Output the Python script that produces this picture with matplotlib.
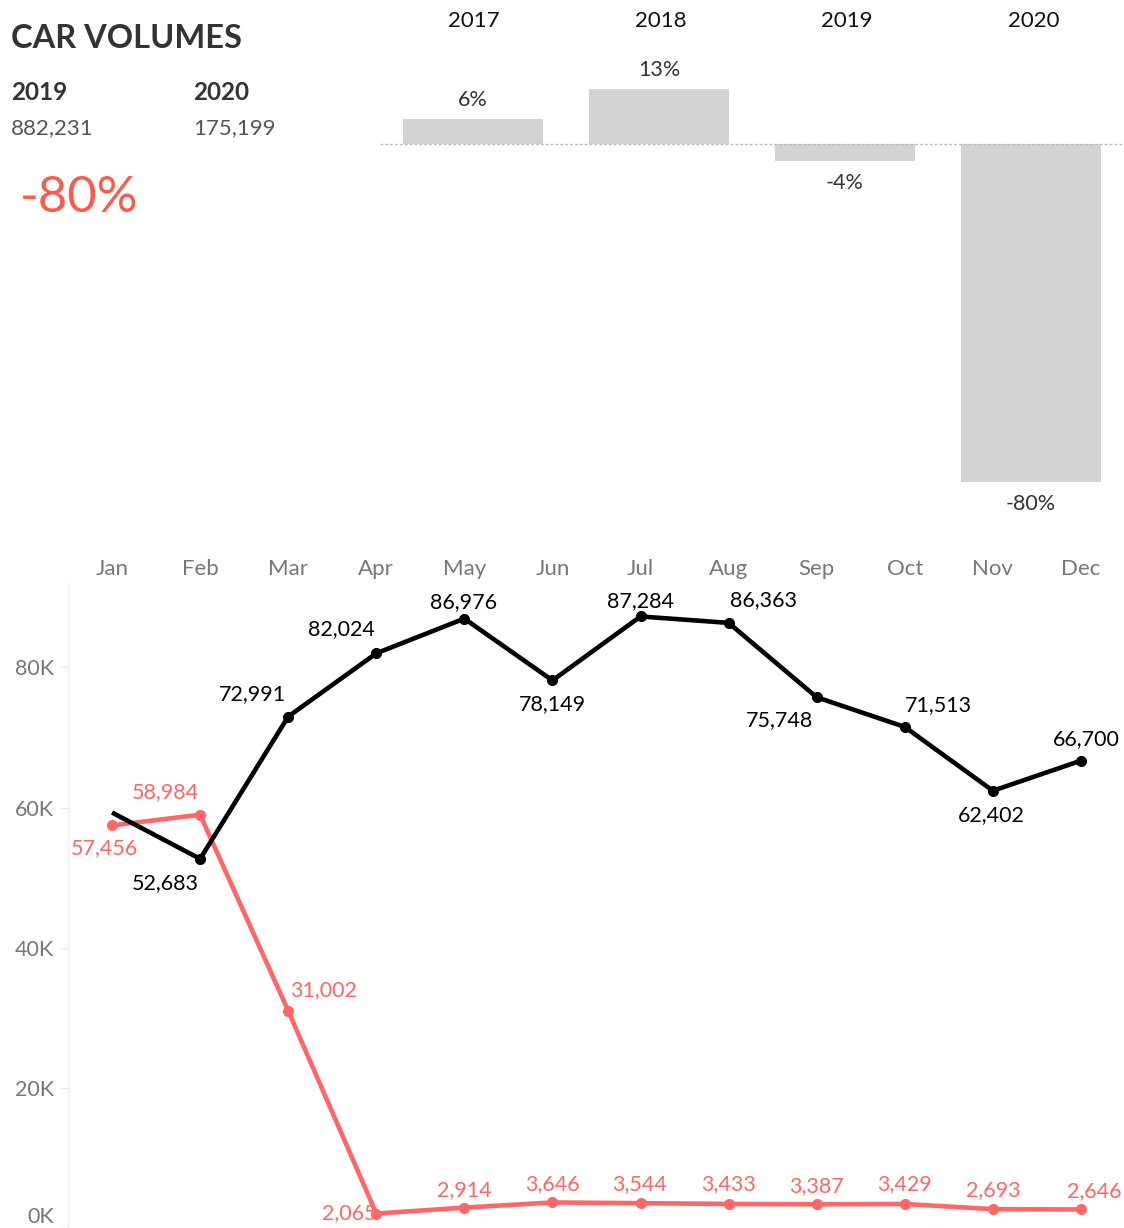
import matplotlib
matplotlib.use("Agg")
import matplotlib.pyplot as plt
from matplotlib.transforms import ScaledTranslation

plt.rcParams['font.family'] = ['Lato', 'DejaVu Sans']

# ---- data ----
years = ['2017', '2018', '2019', '2020']
yoy_pct = [6, 13, -4, -80]

months = ['Jan', 'Feb', 'Mar', 'Apr', 'May', 'Jun', 'Jul', 'Aug', 'Sep', 'Oct', 'Nov', 'Dec']
vol_2019 = [59300, 52683, 72991, 82024, 86976, 78149, 87284, 86363, 75748, 71513, 62402, 66700]
vol_2020 = [57456, 58984, 31002, 2065, 2914, 3646, 3544, 3433, 3387, 3429, 2693, 2646]

total_2019 = 882231
total_2020 = 175199
total_change = -80

W, H = 1124, 1228
fig = plt.figure(figsize=(W / 100, H / 100), dpi=100)

def fx(px):
    return px / W

def fy(py):
    return 1 - py / H

RED = '#FF6666'
BIG_RED = '#F95C4C'
BLACK = '#000000'
GRAY_TXT = '#777777'

# ---- KPI block ----
fig.text(fx(11), fy(39), 'CAR VOLUMES', fontsize=23.5, fontweight='bold', color='#333333', va='center', ha='left')
fig.text(fx(11), fy(93), '2019', fontsize=17.5, fontweight='bold', color='#333333', va='center', ha='left')
fig.text(fx(193), fy(93), '2020', fontsize=17.5, fontweight='bold', color='#333333', va='center', ha='left')
fig.text(fx(11), fy(128), f'{total_2019:,}', fontsize=16, color='#555555', va='center', ha='left')
fig.text(fx(193), fy(128), f'{total_2020:,}', fontsize=16, color='#555555', va='center', ha='left')
fig.text(fx(20), fy(198), f'{total_change}%', fontsize=36.5, color=BIG_RED, va='center', ha='left')

# ---- bar chart ----
ax_b = fig.add_axes([fx(380), fy(540), fx(1124) - fx(380), fy(40) - fy(540)])
zero_py = 144
ppp = 4.225
ax_b.set_ylim(-(540 - zero_py) / ppp, (zero_py - 40) / ppp)
ax_b.set_xlim(-0.5, len(years) - 0.5)
xs = list(range(len(years)))
ax_b.bar(xs, yoy_pct, width=0.753, color='#D3D3D3', zorder=2)
ax_b.axhline(0, color='#BBBBBB', lw=1, ls=(0, (2, 1.5)), zorder=3)
for x, v in zip(xs, yoy_pct):
    if v >= 0:
        ax_b.annotate(f'{v}%', (x, v), xytext=(0, 9), textcoords='offset pixels',
                      ha='center', va='bottom', fontsize=15.5, color='#333333')
    else:
        ax_b.annotate(f'{v}%', (x, v), xytext=(0, -12), textcoords='offset pixels',
                      ha='center', va='top', fontsize=15.5, color='#333333')
for x, yl in zip(xs, years):
    fig.text(fx(474 + 186.5 * x), fy(21), yl, fontsize=16, color='#111111', ha='center', va='center')
ax_b.axis('off')

# ---- line chart ----
ax = fig.add_axes([fx(68), fy(1228), fx(1125) - fx(68), fy(583) - fy(1228)])
ppk = 7.05
ax.set_ylim((1232 - 1228) / ppk * 1000, (1232 - 583) / ppk * 1000)
ax.set_xlim(-0.5, 11.5)
mx = list(range(len(months)))

ax.plot(mx, vol_2020, color=RED, lw=3.3, zorder=3, solid_capstyle='round')
ax.plot(mx, vol_2020, 'o', color=RED, ms=7, zorder=3)
ax.plot(mx, vol_2019, color=BLACK, lw=3.3, zorder=4, solid_capstyle='butt')
ax.plot(mx[1:], vol_2019[1:], 'o', color=BLACK, ms=7, zorder=4)

off_2019 = [None, (-35, -24), (-36, 22), (-35, 24), (-1, 17), (0, -24), (0, 15),
            (35, 23), (-37, -23), (34, 22), (-2, -24), (5, 22)]
off_2020 = [(-8, -23), (-35, 23), (35, 21), (-31, 0), (0, 17), (0, 18), (-1, 19),
            (0, 20), (0, 18), (0, 20), (0, 19), (13, 18)]
for i, v in enumerate(vol_2019):
    if off_2019[i] is None:
        continue
    ax.annotate(f'{v:,}', (i, v), xytext=off_2019[i], textcoords='offset pixels',
                ha='center', va='center', fontsize=15.5, color=BLACK, zorder=6)
for i, v in enumerate(vol_2020):
    ha = 'center'
    ox, oy = off_2020[i]
    if i == 3:
        ha = 'right'
        ox = 0
    ax.annotate(f'{v:,}', (i, v), xytext=(ox, oy), textcoords='offset pixels',
                ha=ha, va='center', fontsize=15.5, color=RED, zorder=6)

ax.set_yticks([0, 20000, 40000, 60000, 80000])
ax.set_yticklabels(['0K', '20K', '40K', '60K', '80K'])
ax.set_xticks(mx)
ax.set_xticklabels(months)
ax.xaxis.tick_top()
ax.tick_params(axis='x', length=0, pad=3, labelsize=16, labelcolor=GRAY_TXT)
ax.tick_params(axis='y', length=6, width=1, color='#E6E6E6', pad=4, labelsize=15.5, labelcolor=GRAY_TXT)
# the bottom (0K) label sits just inside the figure edge
lbl0 = ax.get_yticklabels()[0]
lbl0.set_transform(lbl0.get_transform() + ScaledTranslation(0, 0.13, fig.dpi_scale_trans))
for s in ['top', 'right', 'bottom']:
    ax.spines[s].set_visible(False)
ax.spines['left'].set_color('#EEEEEE')
ax.spines['left'].set_linewidth(1)
ax.set_facecolor('none')

fig.savefig('out.png', dpi=100)
